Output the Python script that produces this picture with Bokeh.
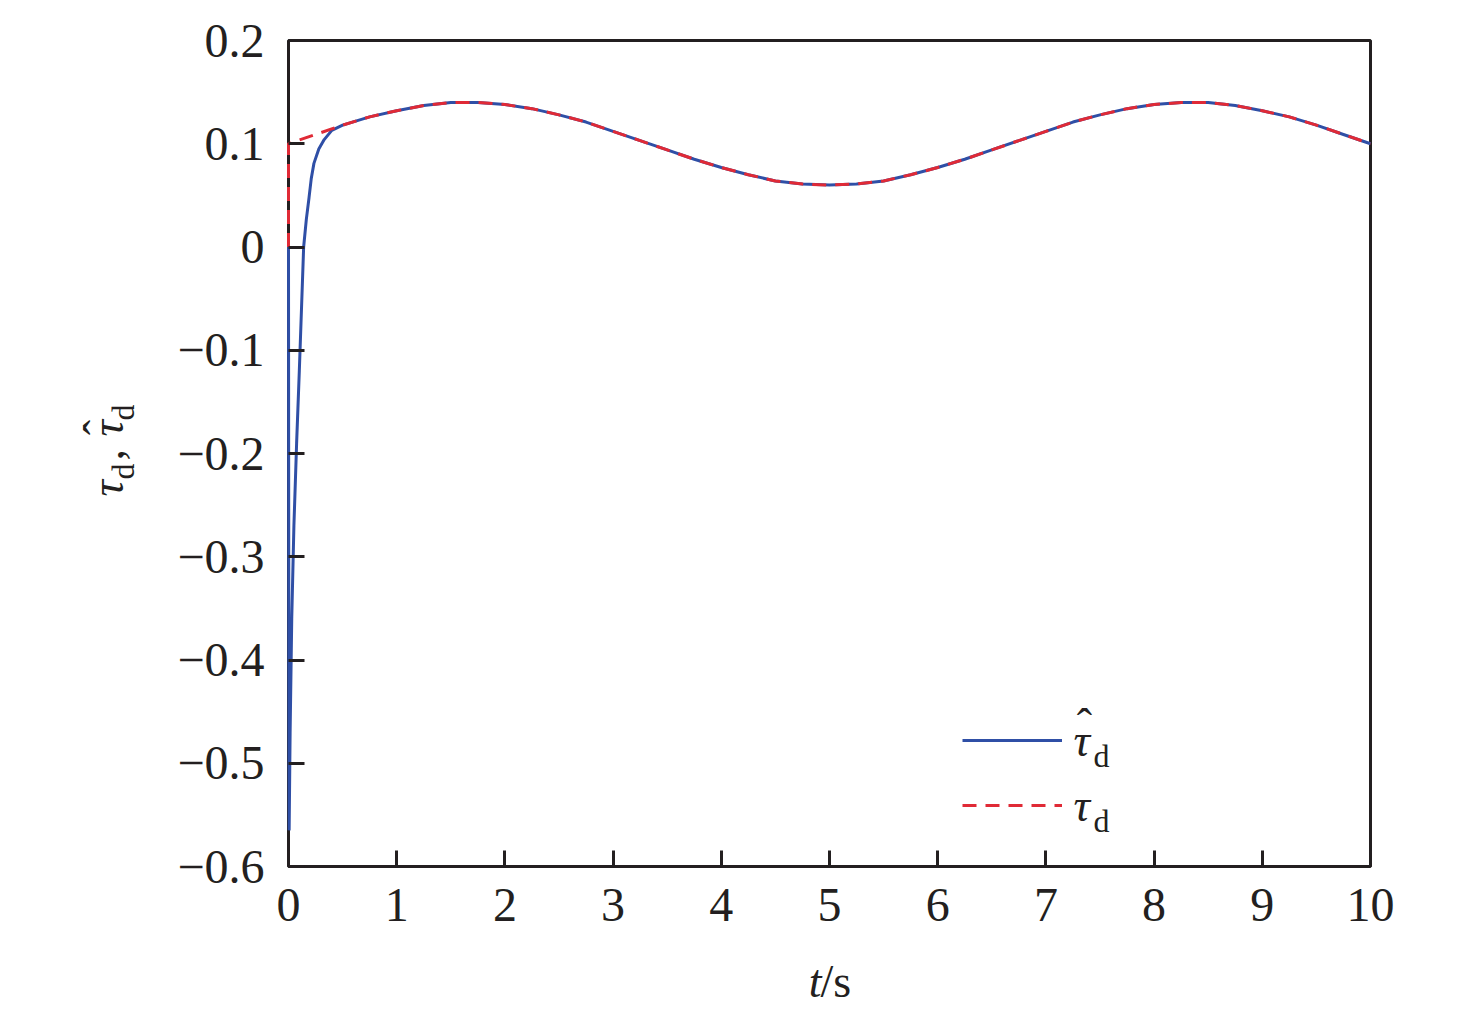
import math
from bokeh.plotting import figure
from bokeh.models import (Range1d, FixedTicker, Label, Legend, LegendItem,
                          LinearAxis, BoxAnnotation)
from bokeh.embed import file_html
from bokeh.resources import INLINE

# ---- data ----
t_true = [0.0, 0.0, 0.25, 0.5, 0.75, 1.0, 1.25, 1.5, 1.75, 2.0, 2.25, 2.5, 2.75, 3.0,
          3.25, 3.5, 3.75, 4.0, 4.25, 4.5, 4.75, 5.0, 5.25, 5.5, 5.75, 6.0, 6.25,
          6.5, 6.75, 7.0, 7.25, 7.5, 7.75, 8.0, 8.25, 8.5, 8.75, 9.0, 9.25, 9.5,
          9.75, 10.0]
tau_true = [0.0, 0.100, 0.109, 0.118, 0.126, 0.132, 0.137, 0.140, 0.140, 0.138, 0.134,
            0.128, 0.121, 0.112, 0.103, 0.094, 0.085, 0.077, 0.070, 0.064, 0.061,
            0.060, 0.061, 0.064, 0.070, 0.077, 0.085, 0.094, 0.103, 0.112, 0.121,
            0.128, 0.134, 0.138, 0.140, 0.140, 0.137, 0.132, 0.126, 0.118, 0.109, 0.100]

# estimate: initial transient, then it tracks the true disturbance
t_est_start = [0.0, 0.003, 0.006, 0.015, 0.03, 0.05, 0.075, 0.1, 0.12, 0.14, 0.165,
               0.19, 0.21, 0.235, 0.28, 0.33, 0.4, 0.5]
tau_est_start = [0.0, -0.40, -0.565, -0.47, -0.36, -0.27, -0.19, -0.12, -0.06, 0.0,
                 0.027, 0.048, 0.066, 0.081, 0.095, 0.104, 0.113, 0.118]
t_est = t_est_start + t_true[4:]
tau_est = tau_est_start + tau_true[4:]

x_ticks = [0, 1, 2, 3, 4, 5, 6, 7, 8, 9, 10]
y_ticks = [-0.6, -0.5, -0.4, -0.3, -0.2, -0.1, 0.0, 0.1, 0.2]
y_tick_labels = ["\u22120.6", "\u22120.5", "\u22120.4", "\u22120.3", "\u22120.2",
                 "\u22120.1", "0", "0.1", "0.2"]
X_LIM = (0, 10)
Y_LIM = (-0.6, 0.2)

BLUE = "#2f4fa6"
RED = "#e02a36"
INK = "#231f20"
FONT = "Liberation Serif"

# ---- layout: the whole canvas is the frame; the axes box is drawn inside it ----
W, H = 1440, 1010
BOX_LEFT, BOX_TOP, BOX_W, BOX_H = 288, 40, 1082, 826
sx = BOX_W / (X_LIM[1] - X_LIM[0])
sy = BOX_H / (Y_LIM[1] - Y_LIM[0])
x_range = Range1d(X_LIM[0] - BOX_LEFT / sx, X_LIM[0] + (W - BOX_LEFT) / sx)
y_range = Range1d(Y_LIM[1] - (H - BOX_TOP) / sy, Y_LIM[1] + BOX_TOP / sy)


def dx(px):
    return X_LIM[0] + (px - BOX_LEFT) / sx


def dy(py):
    return Y_LIM[1] - (py - BOX_TOP) / sy


p = figure(frame_width=W, frame_height=H, min_border=0,
           x_range=x_range, y_range=y_range,
           x_axis_location=None, y_axis_location=None,
           output_backend="svg", toolbar_location=None)
p.background_fill_color = "white"
p.border_fill_color = "white"
p.outline_line_color = None
p.xgrid.visible = False
p.ygrid.visible = False

xaxis = LinearAxis(fixed_location=Y_LIM[0], ticker=FixedTicker(ticks=x_ticks))
yaxis = LinearAxis(fixed_location=X_LIM[0], ticker=FixedTicker(ticks=y_ticks))
yaxis.major_label_overrides = {v: s for v, s in zip(y_ticks, y_tick_labels)}
for ax in (xaxis, yaxis):
    ax.axis_line_color = None
    ax.major_tick_in = 16
    ax.major_tick_out = 0
    ax.major_tick_line_width = 3
    ax.major_tick_line_color = INK
    ax.minor_tick_line_color = None
    ax.major_label_text_font = FONT
    ax.major_label_text_font_size = "48px"
    ax.major_label_text_color = INK
xaxis.major_label_standoff = 22
yaxis.major_label_standoff = 24
p.add_layout(xaxis, "below")
p.add_layout(yaxis, "left")

p.add_layout(BoxAnnotation(left=X_LIM[0], right=X_LIM[1], bottom=Y_LIM[0], top=Y_LIM[1],
                           fill_alpha=0, line_color=INK, line_alpha=1.0, line_width=3,
                           level="underlay"))

r_est = p.line(t_est, tau_est, line_color=BLUE, line_width=3)
r_true = p.line(t_true, tau_true, line_color=RED, line_width=3, line_dash="14 9")

legend = Legend(items=[LegendItem(label=" ", renderers=[r_est]),
                       LegendItem(label=" ", renderers=[r_true])],
                location=(962, H - 815), glyph_width=100, glyph_height=20,
                label_height=20, label_width=1, label_text_font_size="8px",
                spacing=45, padding=0, margin=0,
                border_line_alpha=0, background_fill_alpha=0)
p.add_layout(legend)


def lab(px, py, text, size, style="normal", align="left", baseline="alphabetic", angle=0.0):
    p.add_layout(Label(x=dx(px), y=dy(py), text=text, text_font=FONT, text_font_size=size,
                       text_font_style=style, text_align=align,
                       text_baseline=baseline, angle=angle, text_color=INK))


# legend texts
lab(1073, 740, "\u03c4", "46px", "italic")
lab(1093, 755, "d", "32px")
lab(1084, 725, "\u02c6", "46px", align="center")
lab(1073, 805, "\u03c4", "46px", "italic")
lab(1093, 820, "d", "32px")

# x axis title
lab(821, 981, "t", "46px", "italic", align="right")
lab(820, 981, "/s", "46px")

# y axis title (rotated)
A = math.pi / 2
lab(107, 496, "\u03c4", "46px", "italic", angle=A)
lab(122, 479, "d", "32px", angle=A)
lab(107, 460, ",", "46px", angle=A)
lab(107, 436, "\u03c4", "46px", "italic", angle=A)
lab(122, 420, "d", "32px", angle=A)
lab(100, 427, "\u02c6", "46px", align="center", angle=A)

open("out.html", "w").write(file_html(p, INLINE))
